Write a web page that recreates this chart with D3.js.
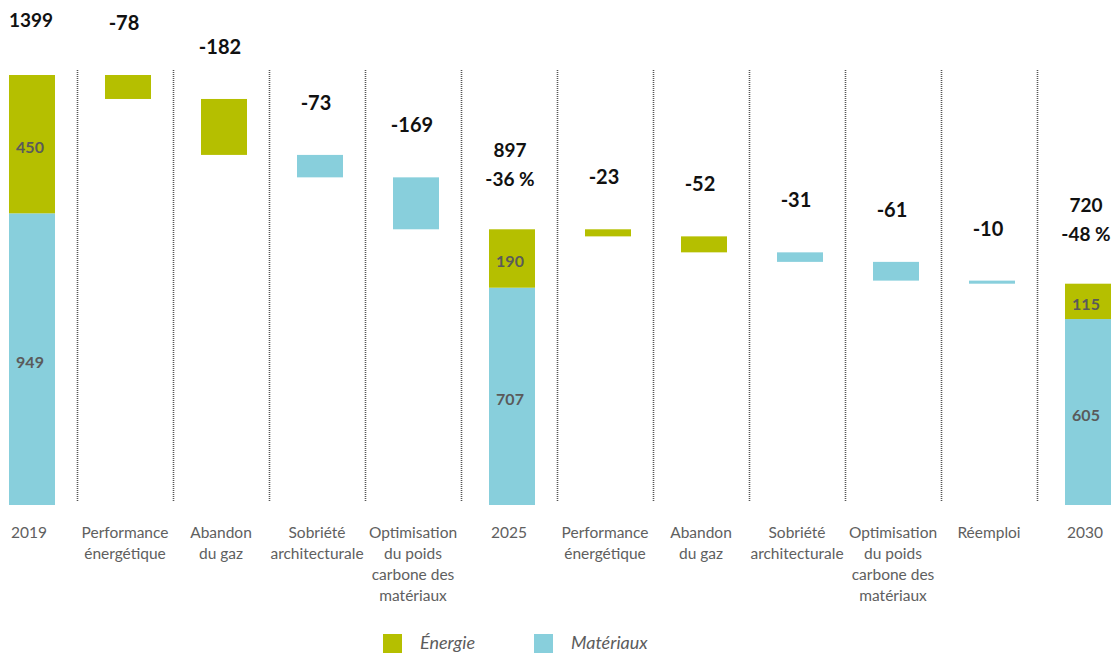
<!DOCTYPE html>
<html>
<head>
<meta charset="utf-8">
<script src="https://cdn.jsdelivr.net/npm/d3@7"></script>
<style>
  html, body { margin: 0; padding: 0; background: #fff; }
  svg { display: block; font-family: Lato, "Open Sans", sans-serif; }
</style>
</head>
<body>
<svg id="chart" width="1111" height="653"></svg>
<script>
// ---- data ----
const categories = [
  "2019",
  "Performance\nénergétique",
  "Abandon\ndu gaz",
  "Sobriété\narchitecturale",
  "Optimisation\ndu poids\ncarbone des\nmatériaux",
  "2025",
  "Performance\nénergétique",
  "Abandon\ndu gaz",
  "Sobriété\narchitecturale",
  "Optimisation\ndu poids\ncarbone des\nmatériaux",
  "Réemploi",
  "2030"
];
const kinds = ["total","step","step","step","step","total","step","step","step","step","step","total"];
const energie   = [450, -78, -182, 0, 0, 190, -23, -52, 0, 0, 0, 115];
const materiaux = [949, 0, 0, -73, -169, 707, 0, 0, -31, -61, -10, 605];
const percentLabels = ["", "", "", "", "", "-36 %", "", "", "", "", "", "-48 %"];
const seriesNames = ["Énergie", "Matériaux"];
const seriesColors = ["#b5bf00", "#88cfdc"];

// ---- layout ----
const svg = d3.select("#chart");
const x = d3.scaleBand().domain(d3.range(categories.length)).range([-16, 1136]).padding(0);
const y = d3.scaleLinear().domain([0, 1399]).range([505, 75]);
const barW = 46;
const cx = i => x(i) + x.bandwidth() / 2;

// compute waterfall geometry
let level = 0;
const segs = [];
const tops = [];
categories.forEach((c, i) => {
  if (kinds[i] === "total") {
    const m = materiaux[i], e = energie[i];
    segs.push({i, v0: 0, v1: m, s: 1, label: m});
    segs.push({i, v0: m, v1: m + e, s: 0, label: e});
    level = m + e;
    tops.push({i, top: level, total: level});
  } else {
    const d = energie[i] + materiaux[i];
    const s = energie[i] !== 0 ? 0 : 1;
    segs.push({i, v0: level + d, v1: level, s, label: null});
    tops.push({i, top: level, delta: d});
    level = level + d;
  }
});

// dotted separators
svg.append("g").selectAll("line")
  .data(d3.range(1, categories.length))
  .join("line")
  .attr("x1", i => x(i) - 2.5).attr("x2", i => x(i) - 2.5)
  .attr("y1", 70).attr("y2", 502)
  .attr("stroke", "#555")
  .attr("stroke-width", 1.6)
  .attr("stroke-dasharray", "1,1");

// bars
svg.append("g").selectAll("rect")
  .data(segs)
  .join("rect")
  .attr("x", d => cx(d.i) - barW / 2)
  .attr("width", barW)
  .attr("y", d => y(d.v1))
  .attr("height", d => Math.max(0, y(d.v0) - y(d.v1)))
  .attr("fill", d => seriesColors[d.s]);

// inner labels on total bars
svg.append("g").selectAll("text")
  .data(segs.filter(d => d.label !== null))
  .join("text")
  .attr("x", d => cx(d.i) - 2)
  .attr("y", d => (y(d.v0) + y(d.v1)) / 2 + 9)
  .attr("text-anchor", "middle")
  .attr("font-size", 16)
  .attr("font-weight", 700)
  .attr("fill", "#5a5a5a")
  .text(d => d.label);

// top labels
const topG = svg.append("g").attr("font-weight", 700).attr("font-size", 20).attr("fill", "#111").attr("text-anchor", "middle");
tops.forEach(t => {
  const yt = y(t.top);
  if (t.delta !== undefined) {
    topG.append("text").attr("x", cx(t.i) - 4).attr("y", yt - 45).text(String(t.delta));
  } else if (percentLabels[t.i]) {
    topG.append("text").attr("x", cx(t.i) - 2).attr("y", yt - 72).attr("font-size", 19).text(t.total);
    topG.append("text").attr("x", cx(t.i) - 2).attr("y", yt - 43).attr("font-size", 19).text(percentLabels[t.i]);
  } else {
    topG.append("text").attr("x", cx(t.i) - 1).attr("y", yt - 48).attr("font-size", 19).text(t.total);
  }
});

// x axis
const axis = d3.axisBottom(x).tickSize(0).tickFormat(i => categories[i]);
const ax = svg.append("g").attr("transform", "translate(-3,526)").call(axis);
ax.select(".domain").remove();
ax.selectAll(".tick text")
  .attr("font-family", "Lato, 'Open Sans', sans-serif")
  .attr("font-size", 15.5)
  .attr("fill", "#606060")
  .attr("dy", 0)
  .attr("y", 0)
  .each(function(i) {
    const el = d3.select(this);
    const lines = categories[i].split("\n");
    el.text(null);
    lines.forEach((ln, k) => {
      el.append("tspan").attr("x", 0).attr("y", 12 + k * 21).text(ln);
    });
  });

// legend
const leg = svg.append("g");
const legX = [383, 534];
seriesNames.forEach((n, k) => {
  leg.append("rect").attr("x", legX[k]).attr("y", 634).attr("width", 19).attr("height", 19).attr("fill", seriesColors[k]);
  leg.append("text").attr("x", legX[k] + 37).attr("y", 649)
    .attr("font-size", 18).attr("font-style", "italic").attr("fill", "#5c5c5c").text(n);
});
</script>
</body>
</html>
